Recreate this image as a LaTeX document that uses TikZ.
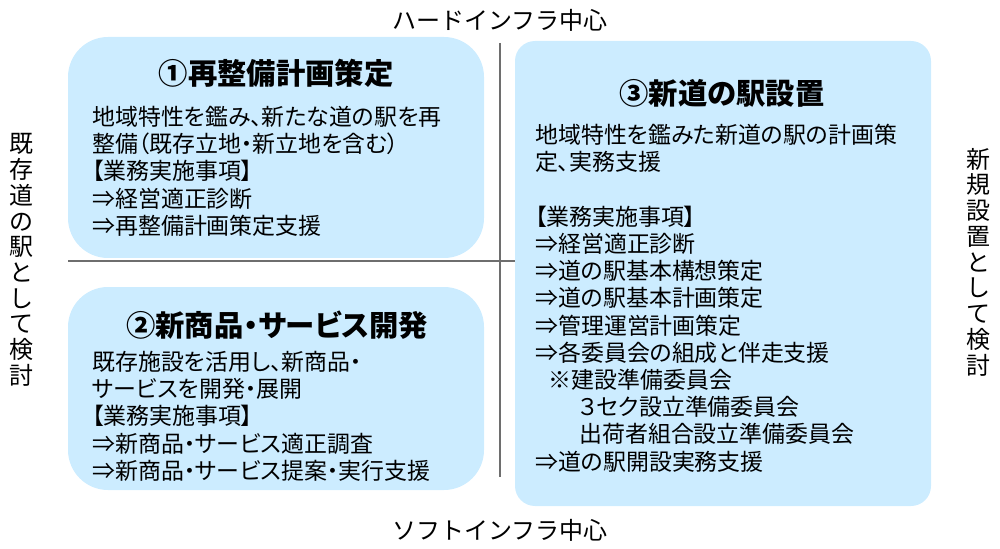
\documentclass[tikz,border=0pt]{standalone}
\usepackage{fontspec}
\setmainfont{Noto Sans CJK JP}[RawFeature=+palt]
\newfontfamily\sidefont{Noto Sans CJK JP}
\usetikzlibrary{positioning}
\definecolor{boxblue}{RGB}{204,236,255}
\definecolor{axisgray}{RGB}{110,110,110}
\tikzset{%
  box/.style={fill=boxblue, inner sep=0pt, minimum width=312pt},
  title/.style={font=\fontsize{22pt}{26pt}\selectfont\bfseries, inner sep=0pt},
  body/.style={font=\fontsize{17.2pt}{20.4pt}\selectfont, align=left, inner sep=0pt, anchor=north west},
  axis/.style={draw=axisgray, thick},
  side/.style={font=\sidefont\fontsize{18pt}{19.3pt}\selectfont, align=center, inner sep=0pt}
}

\begin{document}
\begin{tikzpicture}[x=0.75pt, y=-0.75pt]
  \useasboundingbox (0,0) rectangle (1000,549);

  % axes
  \coordinate (hl) at (68,261);
  \coordinate (hr) at (931,261);
  \coordinate (vt) at (500,43);
  \coordinate (vb) at (500,477);
  \draw[axis] (hl) -- (hr);
  \draw[axis] (vt) -- (vb);

  \node[side] (hard) at (500,20) {ハードインフラ中心};
  \node[side] (soft) at (500,530) {ソフトインフラ中心};
  \node[side] (exist) at (21,260) {既\\存\\道\\の\\駅\\と\\し\\て\\検\\討};
  \node[side] (new) at (978,262) {新\\規\\設\\置\\と\\し\\て\\検\\討};

  % boxes
  \node[box, rounded corners=30pt, minimum height=165.75pt] (b1) at (276,147.5) {};
  \node[box, rounded corners=30pt, minimum height=152.25pt] (b2) at (276,388.5) {};
  \node[box, rounded corners=15pt, minimum height=348.75pt] (b3) at (723,273.5) {};

  \node[title] (t1) at (276,73) {①再整備計画策定};
  \node[body] (d1) at (92,106) {地域特性を鑑み、新たな道の駅を再\\
    整備（既存立地・新立地を含む）\\
    【業務実施事項】\\
    ⇒経営適正診断\\
    ⇒再整備計画策定支援};

  \node[title] (t2) at (277,325) {②新商品・サービス開発};
  \node[body] (d2) at (92,351) {既存施設を活用し、新商品・\\
    サービスを開発・展開\\
    【業務実施事項】\\
    ⇒新商品・サービス適正調査\\
    ⇒新商品・サービス提案・実行支援};

  \node[title] (t3) at (722,93) {③新道の駅設置};
  \node[body] (d3) at (535,124) {地域特性を鑑みた新道の駅の計画策\\
    定、実務支援\\[20.4pt]
    【業務実施事項】\\
    ⇒経営適正診断\\
    ⇒道の駅基本構想策定\\
    ⇒道の駅基本計画策定\\
    ⇒管理運営計画策定\\
    ⇒各委員会の組成と伴走支援\\
    \hspace*{10pt}※建設準備委員会\\
    \hspace*{33pt}３セク設立準備委員会\\
    \hspace*{33pt}出荷者組合設立準備委員会\\
    ⇒道の駅開設実務支援};
\end{tikzpicture}
\end{document}
